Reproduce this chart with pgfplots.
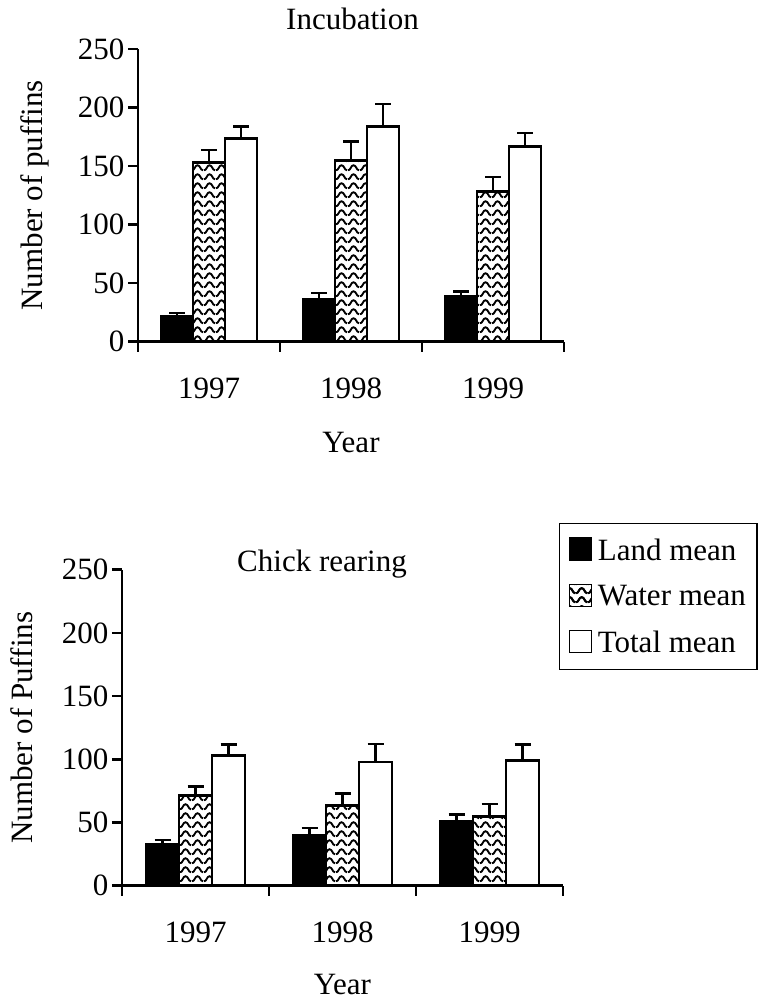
\documentclass[border=0pt]{standalone}
\usepackage{fontspec}
\setmainfont{Liberation Serif}
\usepackage{pgfplots}
\pgfplotsset{compat=1.18}
\usetikzlibrary{patterns}

\pgfdeclarepatternformonly{puffwave}{\pgfpoint{0bp}{0bp}}{\pgfpoint{12bp}{9.3bp}}{\pgfpoint{12bp}{9.3bp}}{%
  \pgfsetlinewidth{2bp}%
  \pgfpathmoveto{\pgfpoint{0bp}{1.8bp}}%
  \pgfpathcurveto{\pgfpoint{3bp}{1.8bp}}{\pgfpoint{3bp}{7.2bp}}{\pgfpoint{6bp}{7.2bp}}%
  \pgfpathcurveto{\pgfpoint{9bp}{7.2bp}}{\pgfpoint{9bp}{1.8bp}}{\pgfpoint{12bp}{1.8bp}}%
  \pgfusepath{stroke}}

\pgfplotsset{
  puff/.style={
    scale only axis,
    axis lines=left,
    axis line style={-, line width=2.6bp, black},
    xmin=-0.5, xmax=2.5, ymin=0, ymax=250,
    ytick={0,50,100,150,200,250},
    xtick={-0.5,0.5,1.5,2.5},
    xticklabels={},
    extra x ticks={0,1,2},
    extra x tick labels={1997,1998,1999},
    extra x tick style={major tick length=0pt},
    tick align=outside,
    major tick length=10bp,
    every tick/.style={line width=2.6bp, black},
    xticklabel style={anchor=base, yshift=-57bp},
    yticklabel style={anchor=east},
    /pgf/number format/assume math mode=true,
    ybar=0pt,
    error bars/y dir=plus,
    error bars/y explicit,
    error bars/error mark=|,
    error bars/error bar style={line width=2.6bp, black},
    error bars/error mark options={black, line width=2.6bp, mark size=8bp},
    clip=false,
  },
  landbar/.style={draw=black, line width=2.8bp, fill=black},
  waterbar/.style={draw=black, line width=2.8bp, fill=white, postaction={pattern=puffwave}},
  totalbar/.style={draw=black, line width=2.8bp, fill=white},
}

\begin{document}
\begin{tikzpicture}[font=\fontsize{31bp}{37bp}\selectfont]
\useasboundingbox (0bp,0bp) rectangle (758bp,1003bp);

% ---------------- Incubation ----------------
\begin{axis}[puff,
  at={(138bp,661.3bp)}, anchor=south west,
  width=426bp, height=292.7bp,
  bar width=32bp,
  title={Incubation},
  title style={at={(axis description cs:0.5035,1.045)}, anchor=base},
  ylabel={Number of puffins},
  ylabel style={at={(axis description cs:-0.242,0.5)}, anchor=center},
  xlabel={Year},
  xlabel style={at={(axis description cs:0.5,-0.377)}, anchor=base},
]
\addplot[landbar] coordinates {(0,22) +- (0,2.5) (1,36.5) +- (0,5) (2,38.5) +- (0,4.5)};
\addplot[waterbar] coordinates {(0,152.8) +- (0,10.8) (1,154.7) +- (0,16.5) (2,128.5) +- (0,12)};
\addplot[totalbar] coordinates {(0,173.5) +- (0,10.5) (1,183.5) +- (0,19.5) (2,167) +- (0,11.3)};
\end{axis}

% ---------------- Chick rearing ----------------
\begin{axis}[puff,
  at={(122bp,117.3bp)}, anchor=south west,
  width=441bp, height=316bp,
  bar width=33bp,
  title={Chick rearing},
  title style={at={(axis description cs:0.4535,0.975)}, anchor=base},
  ylabel={Number of Puffins},
  ylabel style={at={(axis description cs:-0.227,0.5)}, anchor=center},
  xlabel={Year},
  xlabel style={at={(axis description cs:0.5,-0.345)}, anchor=base},
  legend cell align=left,
  legend style={at={(axis description cs:0.991,1.148)}, anchor=north west,
    draw=black, line width=1.2bp, inner xsep=9bp, inner ysep=13bp,
    row sep=20bp, column sep=4bp, font=\fontsize{31bp}{37bp}\selectfont},
]
\addplot[landbar, legend image code/.code={\draw[black, fill=black, line width=1.2bp] (0bp,-10bp) rectangle (22bp,12bp);}]
  coordinates {(0,32.7) +- (0,3.4) (1,39.8) +- (0,5.8) (2,51) +- (0,5.3)};
\addlegendentry{Land mean}
\addplot[waterbar, legend image code/.code={\draw[black, fill=white, line width=1.2bp, postaction={pattern=puffwave}] (0bp,-10bp) rectangle (22bp,12bp);}]
  coordinates {(0,71.2) +- (0,7.1) (1,63.3) +- (0,9.7) (2,54.7) +- (0,9.8)};
\addlegendentry{Water mean}
\addplot[totalbar, legend image code/.code={\draw[black, fill=white, line width=1.2bp] (0bp,-10bp) rectangle (22bp,12bp);}]
  coordinates {(0,103.1) +- (0,8.4) (1,97.8) +- (0,14.2) (2,98.9) +- (0,13)};
\addlegendentry{Total mean}
\end{axis}
\end{tikzpicture}
\end{document}
